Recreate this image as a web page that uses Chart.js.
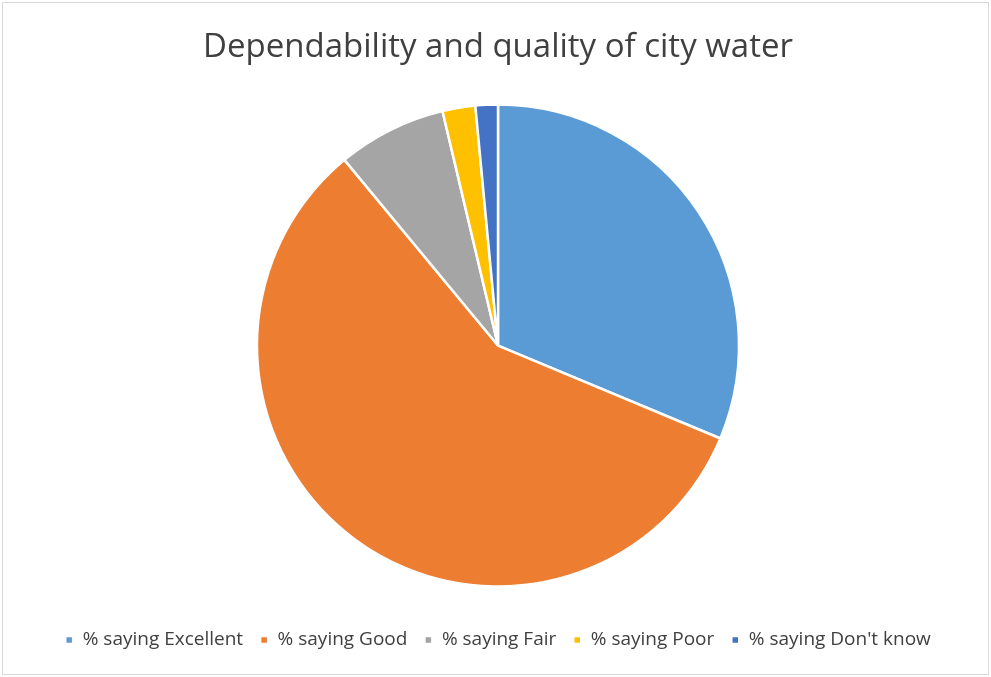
<!DOCTYPE html>
<html lang="en">
<head>
  <meta charset="UTF-8">
  <title>Dependability and quality of city water</title>
  <script src="https://cdn.jsdelivr.net/npm/chart.js"></script>
  <style>
    html, body {
      margin: 0;
      padding: 0;
      background: #fff;
    }
    .chart-box {
      position: absolute;
      left: 2px;
      top: 2px;
      width: 985px;
      height: 671px;
      border: 1px solid #d9d9d9;
      background: #fff;
    }
  </style>
</head>
<body>
  <div class="chart-box">
    <canvas id="waterChart" width="985" height="671"></canvas>
  </div>

  <script>
    // Data
    const labels = ['% saying Excellent', '% saying Good', '% saying Fair', '% saying Poor', "% saying Don't know"];
    const shares = [31.3, 57.7, 7.3, 2.2, 1.5];
    const colors = ['#5B9BD5', '#ED7D31', '#A5A5A5', '#FFC000', '#4472C4'];

    const ctx = document.getElementById('waterChart').getContext('2d');
    new Chart(ctx, {
      type: 'pie',
      data: {
        labels: labels,
        datasets: [{
          data: shares,
          backgroundColor: colors,
          borderColor: '#ffffff',
          borderWidth: 2.5
        }]
      },
      options: {
        responsive: false,
        animation: false,
        radius: 241,
        layout: {
          padding: { top: 0, bottom: 14.5, left: 5, right: 0 }
        },
        plugins: {
          title: {
            display: true,
            text: 'Dependability and quality of city water',
            color: '#404040',
            font: { family: 'Open Sans', size: 33, weight: 'normal' },
            padding: { top: 25, bottom: 10 }
          },
          legend: {
            position: 'bottom',
            labels: {
              color: '#404040',
              font: { family: 'Open Sans', size: 19 },
              boxWidth: 8,
              boxHeight: 8,
              padding: 17
            }
          },
          tooltip: { enabled: false }
        }
      }
    });
  </script>
</body>
</html>
